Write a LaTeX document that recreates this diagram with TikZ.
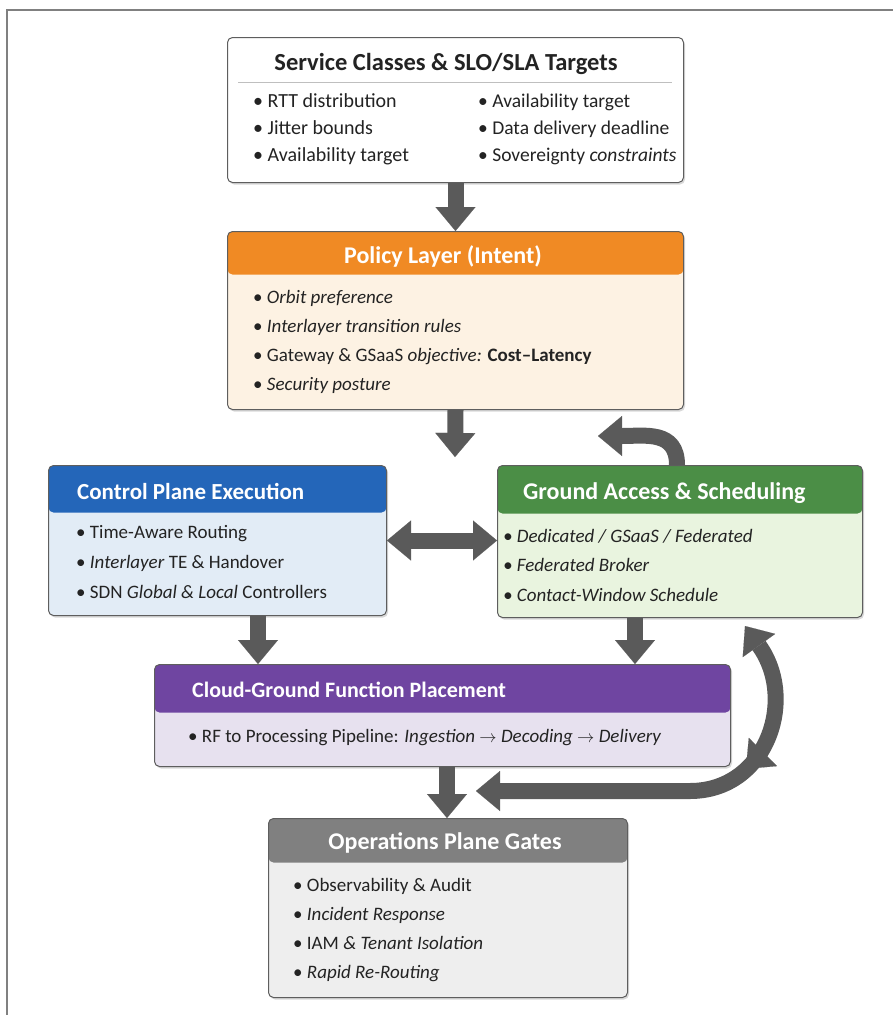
\documentclass[tikz,border=0pt]{standalone}
\usepackage{fontspec}
\setmainfont{Carlito}
\usetikzlibrary{arrows.meta,shadows,decorations.markings}

\definecolor{edge}{HTML}{5E5E5E}
\definecolor{flowgray}{HTML}{5A5A5A}
\definecolor{ink}{HTML}{232323}
\definecolor{polhead}{HTML}{F08A24}
\definecolor{polbody}{HTML}{FDF2E3}
\definecolor{ctlhead}{HTML}{2466B9}
\definecolor{ctlbody}{HTML}{E2ECF6}
\definecolor{gndhead}{HTML}{4B8E46}
\definecolor{gndbody}{HTML}{E9F4DF}
\definecolor{cldhead}{HTML}{6F45A1}
\definecolor{cldbody}{HTML}{E7E1EF}
\definecolor{opshead}{HTML}{808080}
\definecolor{opsbody}{HTML}{EEEEEE}

\begin{document}
\begin{tikzpicture}[x=1pt,y=-1pt,
    fat/.tip={Triangle[width=40pt,length=24pt,line width=0.1pt]},
    panel/.style n args={3}{draw=edge, line width=1pt, rounded corners=5pt, fill=#2,
        anchor=north west, inner sep=0pt,
        drop shadow={shadow xshift=1.5pt, shadow yshift=-2pt, opacity=0.3},
        path picture={\fill[#1] (path picture bounding box.north west) rectangle
            ([yshift=-#3]path picture bounding box.north east);}},
    headtxt/.style={anchor=west, inner sep=0pt, text height=18pt, text depth=4pt,
        font=\fontsize{24}{28}\selectfont\bfseries, text=white},
    item/.style={anchor=west, inner sep=0pt, text height=14pt, text depth=4pt,
        font=\fontsize{19}{24}\selectfont, text=ink},
    flow/.style={color=flowgray, line width=16pt, -fat}]
    \useasboundingbox (0,0) rectangle (893,1015);
    \draw[color=gray, line width=1.2pt] (7,1015) -- (7,10) -- (893,10);

    % boxes
    \node[panel={white}{white}{0pt}, minimum width=456pt, minimum height=145pt] (svc) at (227,37) {};
    \node[panel={polhead}{polbody}{43pt}, minimum width=456pt, minimum height=178pt] (pol) at (227,231) {};
    \node[panel={ctlhead}{ctlbody}{47pt}, minimum width=338pt, minimum height=150pt] (ctl) at (48,465) {};
    \node[panel={gndhead}{gndbody}{48pt}, minimum width=365pt, minimum height=152pt] (gnd) at (497,465) {};
    \node[panel={cldhead}{cldbody}{48pt}, minimum width=576pt, minimum height=102pt] (cld) at (154,664) {};
    \node[panel={opshead}{opsbody}{44pt}, minimum width=359pt, minimum height=179pt] (ops) at (268,818) {};

    % titles
    \node[headtxt, anchor=center, text=ink, font=\fontsize{24.5}{28}\selectfont\bfseries] (svc-title)
        at (446,63) {Service Classes \& SLO/SLA Targets};
    \draw[color=lightgray, line width=1pt] (238,82) -- (672,82);
    \node[headtxt, anchor=center] (pol-title) at (443,256) {Policy Layer (Intent)};
    \node[headtxt, font=\fontsize{23}{28}\selectfont\bfseries] (ctl-title) at (77,492) {Control Plane Execution};
    \node[headtxt] (gnd-title) at (523,492) {Ground Access \& Scheduling};
    \node[headtxt, font=\fontsize{22}{28}\selectfont\bfseries] (cld-title) at (192,690) {Cloud-Ground Function Placement};
    \node[headtxt, anchor=center] (ops-title) at (445,842) {Operations Plane Gates};

    % bullet lists
    \foreach \t [count=\i from 0] in {RTT distribution, Jitter bounds, Availability target}
        \node[item, font=\fontsize{20}{24}\selectfont] (svcL\i) at (253,{102+27*\i}) {\textbullet\ \t};
    \foreach \t [count=\i from 0] in {Availability target, Data delivery deadline,
            {Sovereignty \textit{constraints}}}
        \node[item, font=\fontsize{19.5}{24}\selectfont] (svcR\i) at (478,{102+27*\i}) {\textbullet\ \t};
    \foreach \t [count=\i from 0] in {{\textit{Orbit preference}}, {\textit{Interlayer transition rules}},
            {Gateway \& GSaaS \textit{objective:} \textbf{Cost--Latency}}, {\textit{Security posture}}}
        \node[item] (pol\i) at (253,{298+29.3*\i}) {\textbullet\ \t};
    \foreach \t [count=\i from 0] in {Time-Aware Routing, {\textit{Interlayer} TE \& Handover},
            {SDN \textit{Global \& Local} Controllers}}
        \node[item] (ctl\i) at (76,{533+30*\i}) {\textbullet\ \t};
    \foreach \t [count=\i from 0] in {Dedicated / GSaaS / Federated, Federated Broker,
            Contact-Window Schedule}
        \node[item, font=\fontsize{19}{24}\selectfont\itshape] (gnd\i) at (503,{537+29.5*\i}) {\textbullet\ \t};
    \node[item] (cld0) at (188,737) {\textbullet\ RF to Processing Pipeline: \textit{Ingestion}
        {\fontsize{17}{17}\selectfont$\rightarrow$} \textit{Decoding}
        {\fontsize{17}{17}\selectfont$\rightarrow$} \textit{Delivery}};
    \foreach \t [count=\i from 0] in {Observability \& Audit, {\textit{Incident Response}},
            {IAM \textit{\& Tenant Isolation}}, {\textit{Rapid Re-Routing}}}
        \node[item] (ops\i) at (293,{886+29*\i}) {\textbullet\ \t};

    % connectors
    \coordinate (polout) at (455,457);
    \coordinate (back) at (598,436);
    \coordinate (cgx) at (258,0);
    \coordinate (gcx) at (635,0);
    \coordinate (ocx) at (447,0);
    \coordinate (loopL) at (476,791);
    \coordinate (loopT) at (745,626);
    \draw[flow] (svc.south) -- (pol.north);
    \draw[flow] (pol.south) -- (polout);
    \draw[flow, fat-fat] (ctl.east) -- (ctl.east -| gnd.west);
    \draw[flow] (677,465) .. controls (677,430) and (645,436) .. (back);
    \draw[flow] (ctl.south -| cgx) -- (cld.north -| cgx);
    \draw[flow] (gnd.south -| gcx) -- (cld.north -| gcx);
    \draw[flow] (cld.south -| ocx) -- (ops.north -| ocx);
    \draw[flow, fat-fat, postaction={decorate, decoration={markings,
            mark=at position 0.64 with {\arrowreversed{fat}}}}]
        (loopL) -- (690,791) .. controls (766,791) and (798,700) .. (loopT);
\end{tikzpicture}
\end{document}
